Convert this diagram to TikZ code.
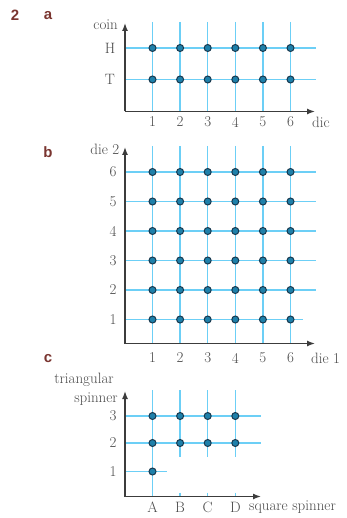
\documentclass[tikz,border=0pt]{standalone}
\usepackage{fontspec}
\newfontfamily\hdrfont{Liberation Sans}
\usetikzlibrary{arrows.meta}
\definecolor{gridblue}{HTML}{6CCFF6}
\definecolor{axisgray}{HTML}{3C3C3C}
\definecolor{dotfill}{HTML}{1E80AA}
\definecolor{dotring}{HTML}{17384E}
\definecolor{labgray}{HTML}{4A4A4A}
\definecolor{partred}{HTML}{7A3530}
\tikzset{
 gridline/.style={gridblue, line width=1.3pt},
 axisline/.style={axisgray, line width=1.4pt, -{Latex[length=8pt,width=6pt]}},
 dot/.style={circle, fill=dotfill, draw=dotring, line width=1pt, minimum size=7pt, inner sep=0pt},
 lab/.style={font=\fontsize{15}{17}\selectfont, text=labgray, inner sep=0pt},
 part/.style={font=\hdrfont\bfseries\fontsize{15}{17}\selectfont, text=partred, inner sep=0pt}
}
\begin{document}
\begin{tikzpicture}[x=1pt,y=-1pt]
\useasboundingbox (0,0) rectangle (347,518);
% headers
\node[part] (n2) at (15,15) {2};
\node[part] (pa) at (48,16) {a};
\node[part] (pb) at (48,152) {b};
\node[part] (pc) at (48,359) {c};
% ---------------- part a
\foreach \i in {1,...,6}{
  \pgfmathsetmacro\xx{152.5+27.6*(\i-1)}
  \coordinate (av\i t) at (\xx,22);
  \coordinate (av\i b) at (\xx,111);
  \draw[gridline] (av\i t) -- (av\i b);
  \node[lab] (ax\i) at (\xx,122) {\i};
}
\foreach \r/\yy in {H/48,T/79.5}{
  \coordinate (ah\r l) at (125,\yy);
  \coordinate (ah\r r) at (316,\yy);
  \draw[gridline] (ah\r l) -- (ah\r r);
  \node[lab] (ay\r) at (110,\yy) {\r};
}
\coordinate (aO) at (125,111.5);
\coordinate (aY) at (125,23);
\coordinate (aX) at (315,111.5);
\draw[axisline] (aO) -- (aY);
\draw[axisline] (aO) -- (aX);
\foreach \i in {1,...,6}{
  \foreach \yy in {48,79.5}{
    \node[dot] (ad\i-\yy) at (152.5+27.6*\i-27.6,\yy) {};
  }
}
\node[lab, anchor=east] (coin) at (118,25) {coin};
\node[lab, anchor=west] (dic) at (312,122) {dic};
% ---------------- part b
\foreach \i in {1,...,6}{
  \pgfmathsetmacro\xx{152.5+27.6*(\i-1)}
  \coordinate (bv\i t) at (\xx,146);
  \coordinate (bv\i b) at (\xx,343);
  \draw[gridline] (bv\i t) -- (bv\i b);
  \node[lab] (bx\i) at (\xx,358) {\i};
}
\foreach \i in {1,...,6}{
  \pgfmathsetmacro\yy{319.5-29.5*(\i-1)}
  \pgfmathsetmacro\xr{ifthenelse(\i==1,303,316)}
  \coordinate (bh\i l) at (125,\yy);
  \coordinate (bh\i r) at (\xr,\yy);
  \draw[gridline] (bh\i l) -- (bh\i r);
  \node[lab] (by\i) at (113,\yy) {\i};
}
\coordinate (bO) at (125,343.5);
\coordinate (bY) at (125,147);
\coordinate (bX) at (315,343.5);
\draw[axisline] (bO) -- (bY);
\draw[axisline] (bO) -- (bX);
\foreach \i in {1,...,6}{
  \foreach \j in {1,...,6}{
    \node[dot] (bd\i-\j) at (152.5+27.6*\i-27.6,319.5-29.5*\j+29.5) {};
  }
}
\node[lab, anchor=east] (die2) at (119.5,149) {die 2};
\node[lab, anchor=west] (die1) at (311,358) {die 1};
% ---------------- part c
\foreach \i/\L in {1/A,2/B,3/C,4/D}{
  \pgfmathsetmacro\xx{152.5+27.6*(\i-1)}
  \node[lab] (cx\i) at (\xx,507) {\L};
}
\coordinate (cvAt) at (152.5,390);
\coordinate (cvAb) at (152.5,496);
\draw[gridline] (cvAt) -- (cvAb);
\foreach \i in {2,3,4}{
  \pgfmathsetmacro\xx{152.5+27.6*(\i-1)}
  \coordinate (cv\i t) at (\xx,390);
  \coordinate (cv\i b) at (\xx,457);
  \coordinate (ct\i t) at (\xx,492.5);
  \coordinate (ct\i b) at (\xx,496);
  \draw[gridline] (cv\i t) -- (cv\i b);
  \draw[gridline] (ct\i t) -- (ct\i b);
}
\foreach \i/\yy/\xr in {3/416/261,2/443/261,1/471.5/167}{
  \coordinate (ch\i l) at (125,\yy);
  \coordinate (ch\i r) at (\xr,\yy);
  \draw[gridline] (ch\i l) -- (ch\i r);
  \node[lab] (cy\i) at (113,\yy) {\i};
}
\coordinate (cO) at (125,496.5);
\coordinate (cY) at (125,391);
\coordinate (cX) at (261,496.5);
\draw[axisline] (cO) -- (cY);
\draw[axisline] (cO) -- (cX);
\foreach \i in {1,...,4}{
  \foreach \yy in {416,443}{
    \node[dot] (cd\i-\yy) at (152.5+27.6*\i-27.6,\yy) {};
  }
}
\node[dot] (cdA1) at (152.5,471.5) {};
\node[lab] (tri) at (84,380) {triangular};
\node[lab, anchor=east] (spin) at (118,399.5) {spinner};
\node[lab, anchor=west] (sq) at (249,507) {square spinner};
\end{tikzpicture}
\end{document}
